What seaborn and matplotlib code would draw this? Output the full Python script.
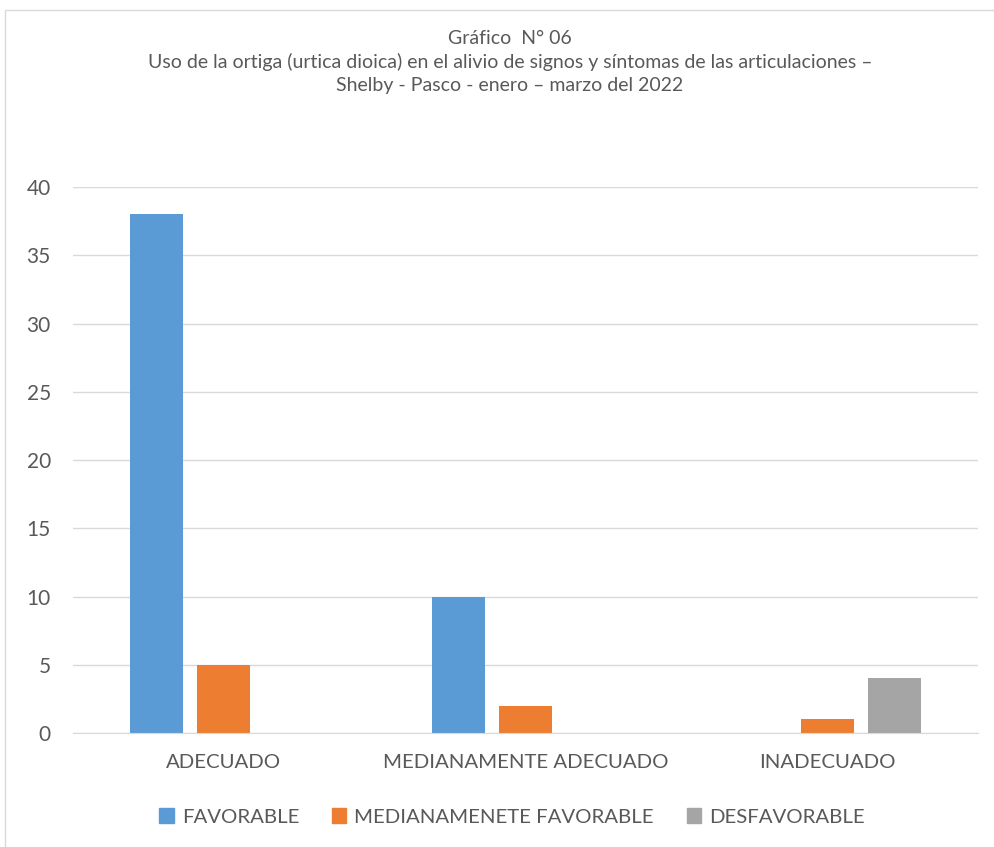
import pandas as pd
import matplotlib.pyplot as plt
import matplotlib.patches as mpatches
import seaborn as sns

categories = ['ADECUADO', 'MEDIANAMENTE ADECUADO', 'INADECUADO']
series = ['FAVORABLE', 'MEDIANAMENETE FAVORABLE', 'DESFAVORABLE']
favorable = [38, 10, 0]
medianamente = [5, 2, 1]
desfavorable = [0, 0, 4]
colors = ['#5B9BD5', '#ED7D31', '#A5A5A5']

df = pd.DataFrame({
    'Categoria': categories * 3,
    'Serie': [series[0]] * 3 + [series[1]] * 3 + [series[2]] * 3,
    'Valor': favorable + medianamente + desfavorable,
})

sns.set_style('white')
plt.rcParams['font.family'] = ['Lato', 'DejaVu Sans']
text_color = '#595959'

fig = plt.figure(figsize=(9.94, 8.47), dpi=100)
ax = fig.add_axes([73 / 994, 1 - 733 / 847, (978 - 73) / 994, (733 - 187) / 847])

sns.barplot(data=df, x='Categoria', y='Valor', hue='Serie', palette=colors,
            width=0.666, gap=0.21, legend=False, ax=ax, saturation=1, linewidth=0)

ax.set_xlim(-0.5, 2.5)
ax.set_ylim(0, 40)
ax.set_yticks(range(0, 41, 5))
ax.yaxis.grid(True, color='#D9D9D9', linewidth=1)
ax.set_axisbelow(True)
for s in ['top', 'right', 'left']:
    ax.spines[s].set_visible(False)
ax.spines['bottom'].set_color('#D9D9D9')
ax.set_xlabel('')
ax.set_ylabel('')
ax.tick_params(axis='y', length=0, pad=16, labelsize=15, labelcolor=text_color)
ax.tick_params(axis='x', length=0, pad=15, labelsize=14.7, labelcolor=text_color)

fig.text(510 / 994, 1 - 38 / 847, 'Gráfico  N° 06', ha='center', va='center',
         fontsize=14, color=text_color)
fig.text(510 / 994, 1 - 62 / 847,
         'Uso de la ortiga (urtica dioica) en el alivio de signos y síntomas de las articulaciones –',
         ha='center', va='center', fontsize=14, color=text_color)
fig.text(510 / 994, 1 - 86 / 847, 'Shelby - Pasco - enero – marzo del 2022',
         ha='center', va='center', fontsize=14, color=text_color)

handles = [mpatches.Patch(color=c, label=l) for c, l in zip(colors, series)]
fig.legend(handles=handles, loc='center', bbox_to_anchor=(512 / 994, 1 - 817 / 847),
           ncol=3, frameon=False, fontsize=14.7, labelcolor=text_color,
           handlelength=0.7, handleheight=0.7, handletextpad=0.4, columnspacing=1.6)

fig.patches.append(mpatches.Rectangle((5 / 994, -0.1), 1.1, 1 - 10 / 847 + 0.1,
                                      transform=fig.transFigure, fill=False,
                                      edgecolor='#D9D9D9', linewidth=1))

fig.savefig('out.png', dpi=100)
